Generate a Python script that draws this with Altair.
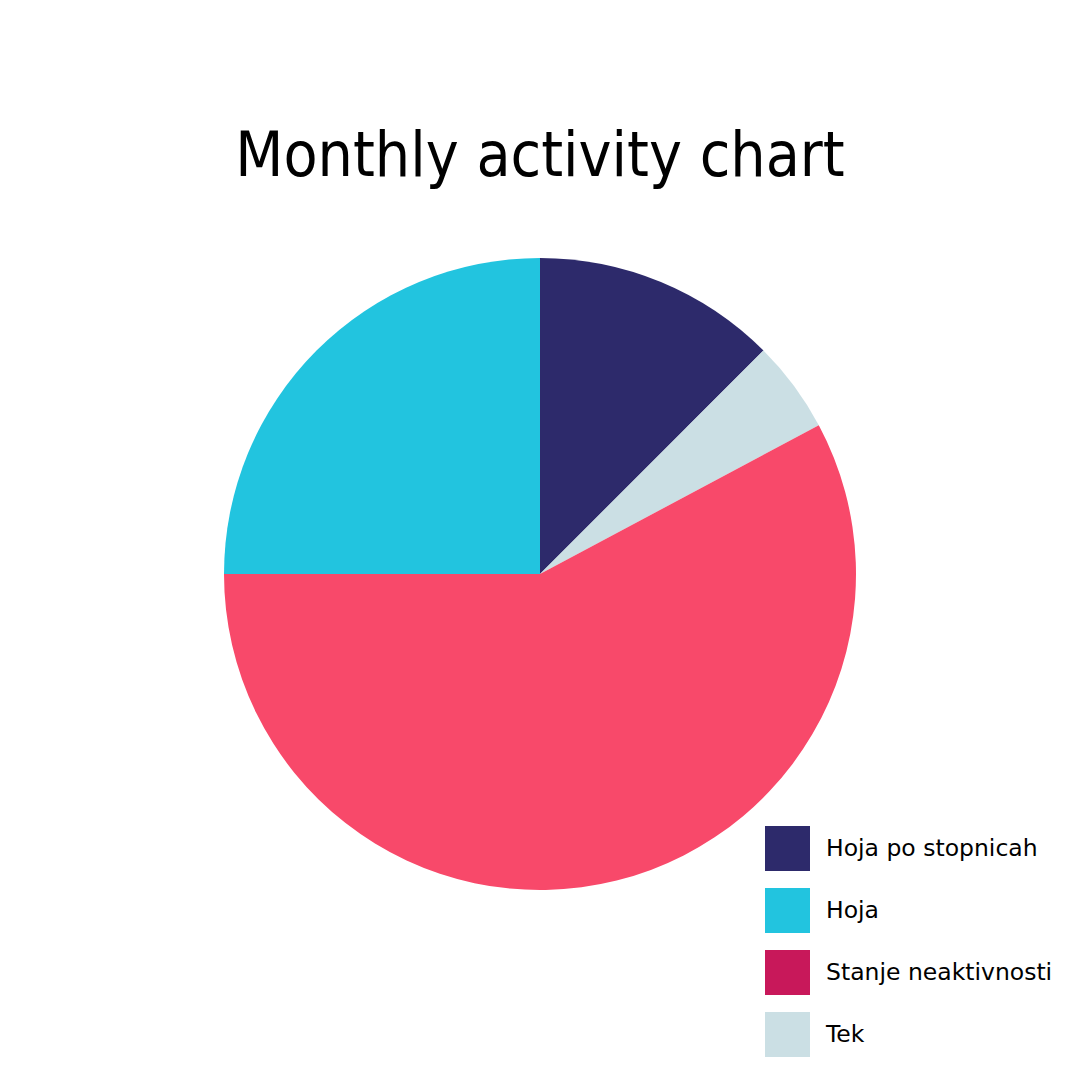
import altair as alt
import pandas as pd

# Slices in drawing order (clockwise from 12 o'clock)
categories = ["Hoja po stopnicah", "Tek", "Stanje neaktivnosti", "Hoja"]
values = [12.5, 4.7, 57.8, 25.0]
pie_colors = ["#2D2A6B", "#CBDFE4", "#F8496A", "#22C4DF"]

# Legend order and legend swatch colours
legend_order = ["Hoja po stopnicah", "Hoja", "Stanje neaktivnosti", "Tek"]
legend_colors = ["#2D2A6B", "#22C4DF", "#C8185A", "#CBDFE4"]

df = pd.DataFrame({
    "category": categories,
    "value": values,
    "pie_color": pie_colors,
    "order": list(range(len(categories))),
})

base = alt.Chart(df).encode(
    theta=alt.Theta("value:Q", stack=True),
    order=alt.Order("order:Q"),
    x=alt.value(532),
    y=alt.value(352),
)

pie = base.mark_arc(radius=316, stroke=None).encode(
    color=alt.Color("pie_color:N", scale=None),
)

legend_layer = base.mark_arc(radius=316, opacity=0).encode(
    fill=alt.Fill(
        "category:N",
        scale=alt.Scale(domain=legend_order, range=legend_colors),
        legend=alt.Legend(
            title=None,
            orient="none",
            legendX=757,
            legendY=604,
            symbolType="square",
            symbolSize=2025,
            symbolOpacity=1,
            symbolStrokeWidth=0,
            rowPadding=17,
            labelFontSize=23.5,
            labelFont="DejaVu Sans",
            labelColor="#000000",
            labelOffset=16,
            padding=0,
            labelLimit=400,
        ),
    ),
)

chart = alt.layer(pie, legend_layer).properties(
    width=1064,
    height=850,
    autosize=alt.AutoSizeParams(type="none"),
    padding={"top": 214, "left": 0, "right": 0, "bottom": 0},
    title=alt.TitleParams(
        "Monthly activity chart",
        fontSize=62,
        font="DejaVu Sans Condensed",
        fontWeight="normal",
        color="#000000",
        anchor="middle",
        baseline="alphabetic",
        offset=-16,
    ),
).configure_view(stroke=None)

chart.save("out.html", embed_options={"renderer": "svg", "actions": False})
